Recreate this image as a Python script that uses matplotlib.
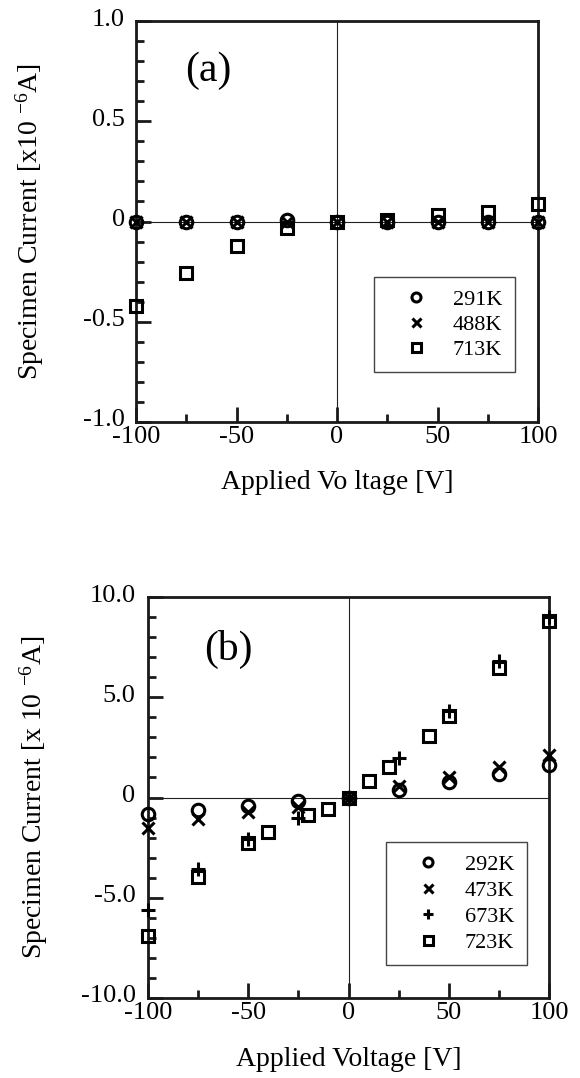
import matplotlib
matplotlib.use("Agg")
import matplotlib.pyplot as plt
import matplotlib.transforms as mtransforms
from matplotlib.ticker import MultipleLocator, FixedLocator, FixedFormatter

plt.rcParams['font.family'] = ['Liberation Serif', 'DejaVu Serif']
plt.rcParams['mathtext.fontset'] = 'custom'
plt.rcParams['mathtext.rm'] = 'Liberation Serif'
plt.rcParams['mathtext.it'] = 'Liberation Serif:italic'
plt.rcParams['axes.unicode_minus'] = False

# ---------------- data ----------------
volt_a = [-100, -75, -50, -25, 0, 25, 50, 75, 100]
cur_a_291K = [0.0, 0.0, 0.0, 0.005, 0.0, 0.0, 0.0, 0.0, 0.0]
cur_a_488K = [0.0, 0.0, 0.0, 0.0, 0.0, 0.0, 0.0, 0.0, 0.0]
cur_a_713K = [-0.42, -0.255, -0.12, -0.03, 0.0, 0.005, 0.03, 0.048, 0.085]
labels_a = ['291K', '488K', '713K']

volt_b = [-100, -75, -50, -25, 0, 25, 50, 75, 100]
cur_b_292K = [-0.8, -0.6, -0.4, -0.15, 0.0, 0.35, 0.75, 1.15, 1.6]
cur_b_473K = [-1.5, -1.05, -0.7, -0.45, 0.0, 0.55, 1.0, 1.5, 2.1]
cur_b_673K = [-5.6, -3.55, -2.05, -1.0, 0.0, 1.95, 4.3, 6.8, 9.0]
volt_b_723 = [-100, -75, -50, -40, -20, -10, 0, 10, 20, 40, 50, 75, 100]
cur_b_723K = [-6.9, -3.95, -2.25, -1.7, -0.85, -0.55, 0.0, 0.8, 1.5, 3.05, 4.05, 6.45, 8.8]
labels_b = ['292K', '473K', '673K', '723K']

yticks_a = [-1.0, -0.5, 0.0, 0.5, 1.0]
yticklabels_a = ['-1.0', '-0.5', '0', '0.5', '1.0']
yticks_b = [-10.0, -5.0, 0.0, 5.0, 10.0]
yticklabels_b = ['-10.0', '-5.0', '0', '5.0', '10.0']
xticks = [-100, -50, 0, 50, 100]
xticklabels = ['-100', '-50', '0', '50', '100']

W, H = 580, 1078
fig = plt.figure(figsize=(W / 100, H / 100), dpi=100)
fig.patch.set_facecolor('white')


def px_axes(l, r, t, b):
    return fig.add_axes([l / W, 1 - b / H, (r - l) / W, (b - t) / H])


ax_a = px_axes(136, 538, 21, 422)
ax_b = px_axes(148, 549, 597, 998)

mk = dict(linestyle='none', markerfacecolor='none', markeredgecolor='black',
          markersize=9, markeredgewidth=2.2, clip_on=False)

up_shift = mtransforms.ScaledTranslation(0, 4 / 100, fig.dpi_scale_trans)


def style(ax, yt, ytl, ylim, yminor, ylab, ylab_x, ypad):
    ax.set_xlim(-100, 100)
    ax.set_ylim(*ylim)
    ax.axhline(0, color='#222222', lw=0.8, zorder=1)
    ax.axvline(0, color='#222222', lw=0.8, zorder=1)
    for s in ax.spines.values():
        s.set_linewidth(2.0)
        s.set_color('#1a1a1a')
    ax.xaxis.set_major_locator(FixedLocator(xticks))
    ax.xaxis.set_major_formatter(FixedFormatter(xticklabels))
    ax.xaxis.set_minor_locator(MultipleLocator(25))
    ax.yaxis.set_major_locator(FixedLocator(yt))
    ax.yaxis.set_major_formatter(FixedFormatter(ytl))
    ax.yaxis.set_minor_locator(MultipleLocator(yminor))
    ax.tick_params(which='both', direction='in', top=False, right=False,
                   width=2.0, color='#1a1a1a')
    ax.tick_params(which='major', length=11, labelsize=19)
    ax.tick_params(which='minor', length=6)
    ax.tick_params(axis='x', which='major', pad=3)
    ax.tick_params(axis='y', which='major', pad=ypad)
    for lab in ax.get_yticklabels():
        lab.set_transform(lab.get_transform() + up_shift)
    ax.set_ylabel(ylab, fontsize=20)
    ax.yaxis.set_label_coords(ylab_x, 0.5)


style(ax_a, yticks_a, yticklabels_a, (-1.0, 1.0), 0.1,
      'Specimen Current [x10 $^{-6}$A]', -0.225, 8)
style(ax_b, yticks_b, yticklabels_b, (-10.0, 10.0), 1.0,
      'Specimen Current [x 10 $^{-6}$A]', -0.245, 9)

ax_a.set_xlabel('Applied Vo ltage [V]', fontsize=20)
ax_a.xaxis.set_label_coords(0.5, -0.12)
ax_b.set_xlabel('Applied Voltage [V]', fontsize=20)
ax_b.xaxis.set_label_coords(0.5, -0.122)

# panel (a)
ax_a.plot(volt_a, cur_a_291K, marker='o', label=labels_a[0], zorder=3, **mk)
ax_a.plot(volt_a, cur_a_488K, marker='x', label=labels_a[1], zorder=3, **mk)
ax_a.plot(volt_a, cur_a_713K, marker='s', label=labels_a[2], zorder=3, **mk)
ax_a.text(-64, 0.75, '(a)', fontsize=30, ha='center', va='center')

# panel (b)
ax_b.plot(volt_b, cur_b_292K, marker='o', label=labels_b[0], zorder=3, **mk)
ax_b.plot(volt_b, cur_b_473K, marker='x', label=labels_b[1], zorder=3, **mk)
ax_b.plot(volt_b, cur_b_673K, marker='+', label=labels_b[2], zorder=3,
          **{**mk, 'markersize': 10.5})
ax_b.plot(volt_b_723, cur_b_723K, marker='s', label=labels_b[3], zorder=3, **mk)
ax_b.text(-60, 7.36, '(b)', fontsize=30, ha='center', va='center')


def make_legend(ax, l, t, spacing):
    leg = ax.legend(loc='upper left',
                    bbox_to_anchor=(l, t),
                    bbox_transform=fig.transFigure,
                    fontsize=16, frameon=True, fancybox=False,
                    edgecolor='#444444', framealpha=1.0,
                    borderpad=0.55, labelspacing=spacing, handlelength=2.7,
                    handletextpad=0.3, borderaxespad=0.0, markerscale=0.72)
    leg.get_frame().set_linewidth(1.0)
    leg.set_zorder(5)
    return leg


make_legend(ax_a, 374 / W, 1 - 277 / H, 0.2)
make_legend(ax_b, 386 / W, 1 - 842 / H, 0.25)

fig.savefig('out.png', dpi=100, facecolor='white')
